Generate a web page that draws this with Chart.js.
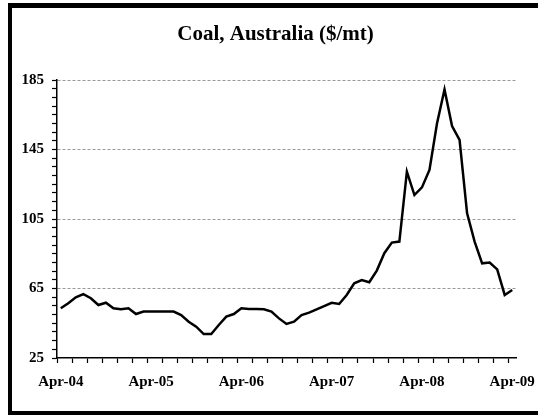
<!DOCTYPE html>
<html>
<head>
<meta charset="utf-8">
<script src="https://cdn.jsdelivr.net/npm/chart.js@4"></script>
<style>
  html, body { margin: 0; padding: 0; background: #fff; overflow: hidden; }
  #frame {
    position: absolute;
    left: 8px;
    top: 3px;
    width: 526px;
    height: 403px;
    border-left: 4px solid #000;
    border-top: 5px solid #000;
    border-bottom: 4px solid #000;
  }
</style>
</head>
<body>
<div id="frame"><canvas id="myChart" width="526" height="403"></canvas></div>
<script>
const months = [
  "Apr-04", "May-04", "Jun-04", "Jul-04", "Aug-04", "Sep-04", "Oct-04", "Nov-04", "Dec-04", "Jan-05", "Feb-05", "Mar-05",
  "Apr-05", "May-05", "Jun-05", "Jul-05", "Aug-05", "Sep-05", "Oct-05", "Nov-05", "Dec-05", "Jan-06", "Feb-06", "Mar-06",
  "Apr-06", "May-06", "Jun-06", "Jul-06", "Aug-06", "Sep-06", "Oct-06", "Nov-06", "Dec-06", "Jan-07", "Feb-07", "Mar-07",
  "Apr-07", "May-07", "Jun-07", "Jul-07", "Aug-07", "Sep-07", "Oct-07", "Nov-07", "Dec-07", "Jan-08", "Feb-08", "Mar-08",
  "Apr-08", "May-08", "Jun-08", "Jul-08", "Aug-08", "Sep-08", "Oct-08", "Nov-08", "Dec-08", "Jan-09", "Feb-09", "Mar-09",
  "Apr-09",
];

const coalPrice = [
  53.6, 56.5, 59.9, 61.8, 59.4, 55.5, 56.8, 53.6, 53.0, 53.6, 50.3, 51.7,
  51.7, 51.7, 51.7, 51.7, 49.7, 45.9, 43.0, 38.8, 38.8, 44.0, 48.8, 50.3,
  53.6, 53.2, 53.2, 53.0, 51.7, 47.8, 44.6, 45.9, 49.7, 51.1, 53.0, 54.9,
  56.8, 56.1, 61.3, 68.0, 69.9, 68.6, 75.3, 85.3, 91.4, 92.0, 132.2, 118.8,
  123.2, 133.2, 160.0, 179.6, 158.5, 150.5, 108.3, 92.0, 79.5, 79.9, 76.0, 61.3,
  64.1,
];

const titleText = "Coal, Australia ($/mt)";
const yMin = 25;
const yMax = 185;
const yMajor = 40;

const serif = "'Liberation Serif', 'Times New Roman', serif";
const tickFont = { family: serif, size: 15, weight: "bold" };

// title drawn by hand so it can sit centred on the frame, not the padded box
const titlePlugin = {
  id: "frameTitle",
  afterDraw(chart) {
    const c = chart.ctx;
    c.save();
    c.font = "bold 21px " + serif;
    c.fillStyle = "#000";
    c.textAlign = "center";
    c.textBaseline = "alphabetic";
    c.fillText(titleText, 263.5, 32);
    c.restore();
  },
};

const ctx = document.querySelector("#myChart").getContext("2d");

const data = {
  labels: months,
  datasets: [
    {
      data: coalPrice,
      label: "Coal, Australia",
      borderColor: "#000",
      borderWidth: 2.5,
      pointRadius: 0,
      tension: 0,
      fill: false,
    },
  ],
};

const config = {
  type: "line",
  data,
  plugins: [titlePlugin],
  options: {
    responsive: false,
    animation: false,
    layout: { padding: { left: 0, right: 22, top: 72, bottom: 0 } },
    plugins: {
      legend: { display: false },
      tooltip: { enabled: false },
      title: { display: false },
    },
    scales: {
      x: {
        offset: true,
        grid: {
          offset: true,
          drawOnChartArea: false,
          tickLength: 5,
          tickWidth: 1.2,
          tickColor: (c) => (c.index % 2 === 0 ? "#000" : "rgba(0,0,0,0)"),
        },
        border: { color: "#000", width: 1.5 },
        ticks: {
          autoSkip: false,
          maxRotation: 0,
          color: "#000",
          font: tickFont,
          padding: 10,
          callback: (val, i) => (i % 12 === 0 ? months[i] : ""),
        },
        afterFit: (scale) => {
          scale.height = 53;
          scale.paddingLeft = 0;
          scale.paddingRight = 0;
        },
      },
      y: {
        min: yMin,
        max: yMax,
        grid: {
          color: (c) => {
            const v = c.tick ? c.tick.value : null;
            return v !== null && v !== yMin && (v - yMin) % yMajor === 0 ? "#999" : "rgba(0,0,0,0)";
          },
          lineWidth: 1,
          tickLength: 5,
          tickWidth: 1.2,
          tickColor: "#000",
          tickBorderDash: [],
        },
        border: { color: "#000", width: 1.5, dash: [3, 2] },
        ticks: {
          stepSize: 5,
          maxTicksLimit: 50,
          autoSkip: false,
          color: "#000",
          font: tickFont,
          padding: 8,
          callback: (val) => ((val - yMin) % yMajor === 0 ? val : ""),
        },
        afterFit: (scale) => {
          scale.width = 45;
          scale.paddingTop = 0;
          scale.paddingBottom = 0;
        },
      },
    },
  },
};

const myChart = new Chart(ctx, config);
</script>
</body>
</html>
